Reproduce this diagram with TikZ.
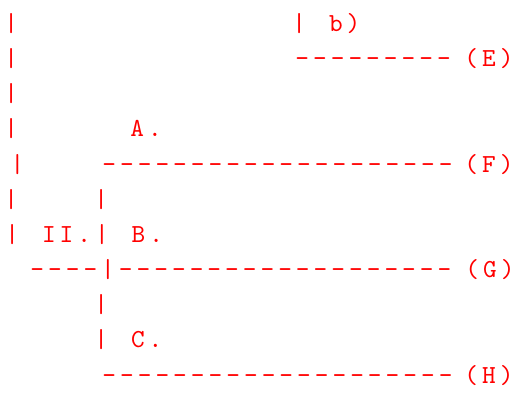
\documentclass[tikz,border=0pt]{standalone}
\usepackage{fontspec}
\usepackage{xcolor}
\usepackage{tikz}
\definecolor{ink}{HTML}{FF0000}
\newfontfamily\asciifamily{lmmono10-regular.otf}[LetterSpace=15.6, WordSpace={1.297,0,0}]
\newcommand\asciifont{\asciifamily\fontsize{26}{30}\selectfont}

\begin{document}
\begin{tikzpicture}[
    x=1pt, y=-1pt,
    ascii/.style={font=\asciifont, text=ink, inner sep=0pt, anchor=base west},
]
\useasboundingbox (0,0) rectangle (515,392);

% Left margin bars
\node[ascii] (bar0) at (4.2, 31.5) {|};
\node[ascii] (bar1) at (4.2, 66.7) {|};
\node[ascii] (bar2) at (4.2, 101.8) {|};
\node[ascii] (bar3) at (4.2, 136.95) {|};
\node[ascii] (bar4) at (10.5, 172.1) {|};
\node[ascii] (bar5) at (4.2, 207.25) {|};

% Branch b)
\node[ascii] (labb) at (292.2, 31.5) {| b)};
\node[ascii] (lineE) at (295.2, 66.7) {---------};
\node[ascii] (tagE) at (464.2, 66.7) {(E)};

% Branch A.
\node[ascii] (labA) at (130.2, 136.95) {A.};
\node[ascii] (lineF) at (102.2, 172.1) {--------------------};
\node[ascii] (tagF) at (464.2, 172.1) {(F)};

% Branch II. / B.
\node[ascii] (stemB) at (94.2, 207.25) {|};
\node[ascii] (rowII) at (5.2, 242.4) {| II.| B.};
\node[ascii] (lineG) at (30.2, 277.55) {----|-------------------};
\node[ascii] (tagG) at (465.2, 277.55) {(G)};

% Branch C.
\node[ascii] (stemC) at (94.2, 312.7) {|};
\node[ascii] (labC) at (94.2, 347.85) {| C.};
\node[ascii] (lineH) at (102.2, 383) {--------------------};
\node[ascii] (tagH) at (464.2, 383) {(H)};

\end{tikzpicture}
\end{document}
